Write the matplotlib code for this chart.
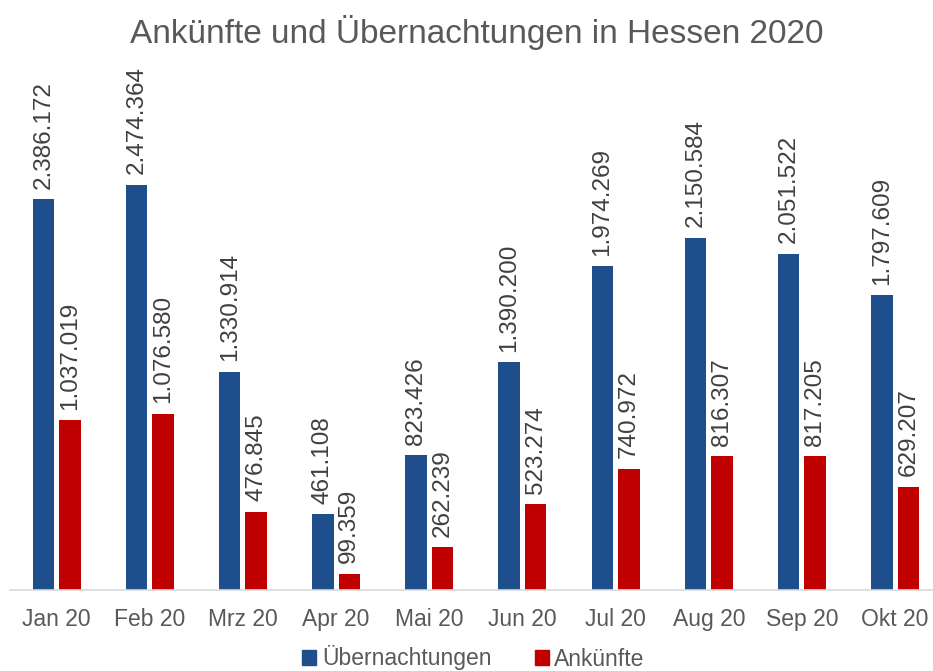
import matplotlib
matplotlib.use("Agg")
import matplotlib.pyplot as plt
from matplotlib.patches import Patch
import numpy as np

months = ["Jan 20", "Feb 20", "Mrz 20", "Apr 20", "Mai 20", "Jun 20",
          "Jul 20", "Aug 20", "Sep 20", "Okt 20"]
uebernachtungen = [2386172, 2474364, 1330914, 461108, 823426, 1390200,
                   1974269, 2150584, 2051522, 1797609]
ankuenfte = [1037019, 1076580, 476845, 99359, 262239, 523274,
             740972, 816307, 817205, 629207]

blue = "#1F4E8C"
red = "#C00000"
txt = "#595959"

plt.rcParams['font.family'] = ['Liberation Sans', 'DejaVu Sans']

fig = plt.figure(figsize=(9.33, 6.71), dpi=100)
ax = fig.add_axes([10/933, 81/671, 923/933, (590-60)/671])

x = np.arange(len(months))
w = 0.23
off = 0.142
b1 = ax.bar(x - off, uebernachtungen, w, color=blue)
b2 = ax.bar(x + off, ankuenfte, w, color=red)

def fmt(v):
    return f"{v:,}".replace(",", ".")

for bars, vals in ((b1, uebernachtungen), (b2, ankuenfte)):
    for r, v in zip(bars, vals):
        ax.annotate(fmt(v), (r.get_x() + r.get_width()/2, v),
                    xytext=(0, 7.5), textcoords="offset points",
                    rotation=90, ha="center", va="bottom",
                    fontsize=17.5, color="#404040")

ax.set_ylim(0, (590-60)/((590-199)/2386172))
ax.set_xlim(-0.5, 9.5 - (941.7-933)/93.2)
ax.set_yticks([])
for s in ["left", "right", "top"]:
    ax.spines[s].set_visible(False)
ax.spines["bottom"].set_color("#D9D9D9")
ax.spines["bottom"].set_linewidth(1.2)
ax.set_xticks(x)
ax.set_xticklabels(months, fontsize=16.5, color=txt)
ax.tick_params(axis="x", length=0, pad=13)

fig.text(0.511, 1 - 33/671, "Ankünfte und Übernachtungen in Hessen 2020",
         ha="center", va="center", fontsize=24, color=txt)

handles = [Patch(color=blue, label="Übernachtungen"),
           Patch(color=red, label="Ankünfte")]
fig.legend(handles=handles, loc="center", bbox_to_anchor=(0.5075, 1 - 658/671),
           ncol=2, frameon=False, fontsize=16.5, labelcolor=txt,
           handlelength=0.6, handleheight=0.6, handletextpad=0.25,
           columnspacing=1.9, borderpad=0)

fig.savefig("out.png", dpi=100)
